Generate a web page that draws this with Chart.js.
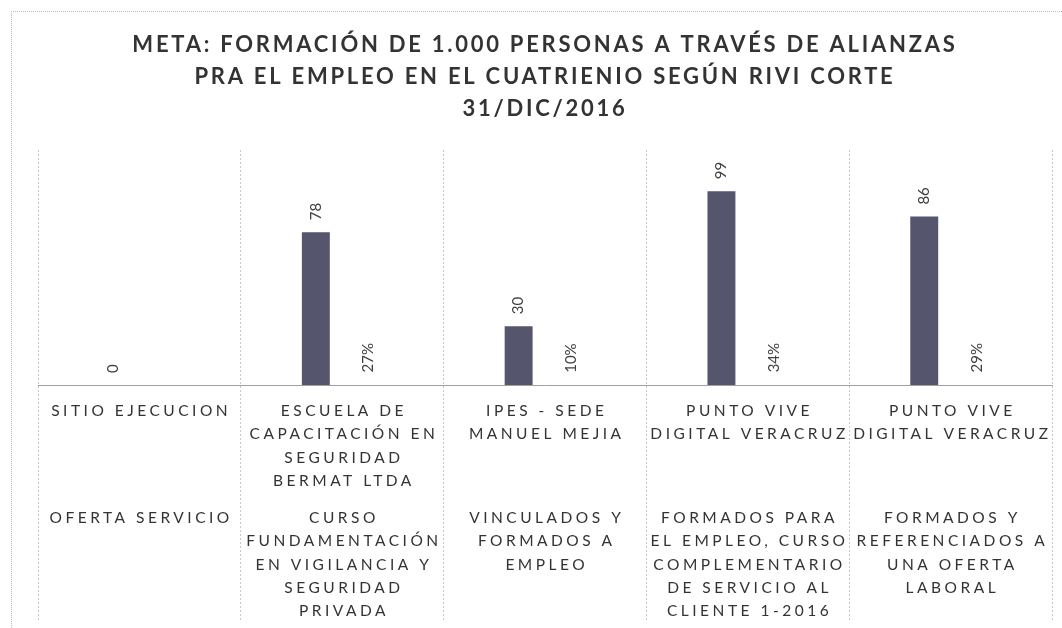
<!DOCTYPE html>
<html>
<head>
<meta charset="utf-8">
<script src="https://cdn.jsdelivr.net/npm/chart.js@4/dist/chart.umd.min.js"></script>
<style>
   html, body { margin:0; padding:0; background:#ffffff; }
   #caja { position:relative; width:1062px; height:628px; overflow:hidden; }
   #marco {
      position:absolute; left:11px; top:11px; width:1062px; height:628px;
      border-left:1px dotted #bdbdbd; border-top:1px dotted #bdbdbd;
   }
</style>
</head>
<body>
<div id="caja">
   <div id="marco"></div>
   <canvas id="grafico" width="1062" height="628"></canvas>
</div>
<script>

/* datos */
let titulo = [
   "META: FORMACIÓN DE 1.000 PERSONAS A TRAVÉS DE ALIANZAS",
   "PRA EL EMPLEO EN EL CUATRIENIO SEGÚN RIVI CORTE",
   "31/DIC/2016"
];

let sitioEjecucion = [
   ["SITIO EJECUCION"],
   ["ESCUELA DE","CAPACITACIÓN EN","SEGURIDAD","BERMAT LTDA"],
   ["IPES - SEDE","MANUEL MEJIA"],
   ["PUNTO VIVE","DIGITAL VERACRUZ"],
   ["PUNTO VIVE","DIGITAL VERACRUZ"]
];

let ofertaServicio = [
   ["OFERTA SERVICIO"],
   ["CURSO","FUNDAMENTACIÓN","EN VIGILANCIA Y","SEGURIDAD","PRIVADA"],
   ["VINCULADOS Y","FORMADOS A","EMPLEO"],
   ["FORMADOS PARA","EL EMPLEO, CURSO","COMPLEMENTARIO","DE SERVICIO AL","CLIENTE 1-2016"],
   ["FORMADOS Y","REFERENCIADOS A","UNA OFERTA","LABORAL"]
];

let personasFormadas = [0, 78, 30, 99, 86];

let porcentajeMeta = [null, 0.27, 0.10, 0.34, 0.29];

let fuente = "Lato, 'Open Sans', 'Liberation Sans', sans-serif";


/* etiquetas de valor y tabla de datos bajo el eje */
let etiquetasPlugin = {

   id:"etiquetas",

   beforeDraw:function(chart){

      /* espaciado del titulo */
      chart.ctx.letterSpacing = "2.75px";

   },

   afterDatasetsDraw:function(chart){

      let ctx = chart.ctx;

      ctx.save();

      ctx.letterSpacing = "0px";
      ctx.font = "15px " + fuente;
      ctx.fillStyle = "#404040";
      ctx.textAlign = "left";
      ctx.textBaseline = "middle";

      chart.data.datasets.forEach(function(ds, i){

         let meta = chart.getDatasetMeta(i);

         meta.data.forEach(function(bar, j){

            let v = ds.data[j];

            if(v === null || v === undefined) return;

            let texto =
               i === 0 ? String(v) : Math.round(v*100) + "%";

            ctx.save();
            ctx.translate(bar.x, bar.y - 12);
            ctx.rotate(-Math.PI/2);
            ctx.fillText(texto, 0, 0);
            ctx.restore();

         });

      });

      let xScale = chart.scales.x;

      ctx.letterSpacing = "3.5px";
      ctx.textAlign = "center";
      ctx.font = "15.5px " + fuente;
      ctx.fillStyle = "#333333";

      sitioEjecucion.forEach(function(lineas, j){

         let x = xScale.getPixelForValue(j) + 1.75;

         lineas.forEach(function(linea, k){

            ctx.fillText(linea, x, xScale.top + 26 + k*23.3);

         });

      });

      ofertaServicio.forEach(function(lineas, j){

         let x = xScale.getPixelForValue(j) + 1.75;

         lineas.forEach(function(linea, k){

            ctx.fillText(linea, x, xScale.top + 133 + k*23.3);

         });

      });

      ctx.restore();

   },

   afterDraw:function(chart){

      chart.ctx.letterSpacing = "0px";

   }

};


let ctx =
   document.getElementById("grafico").getContext("2d");

let grafico = new Chart(ctx, {

   type:"bar",

   data:{

      labels:sitioEjecucion,

      datasets:[
         {
            label:"Personas formadas",
            data:personasFormadas,
            backgroundColor:"#55556d",
            categoryPercentage:0.52,
            barPercentage:0.53
         },
         {
            /* barras del porcentaje: casi nulas, sin relleno visible */
            label:"% de la meta",
            data:porcentajeMeta,
            backgroundColor:"rgba(0,0,0,0)",
            categoryPercentage:0.52,
            barPercentage:0.53
         }
      ]

   },

   options:{

      responsive:false,
      animation:false,

      layout:{
         padding:{ top:12, left:38, right:10, bottom:8 }
      },

      plugins:{

         legend:{ display:false },
         tooltip:{ enabled:false },

         title:{
            display:true,
            text:titulo,
            color:"#333333",
            font:{ family:fuente, size:22, weight:"bold", lineHeight:32/22 },
            padding:{ top:17, bottom:25 }
         }

      },

      scales:{

         x:{
            offset:true,
            grid:{
               offset:true,
               color:"#c8c8c8",
               tickColor:"#c8c8c8",
               tickLength:235,
               tickBorderDash:[2,2]
            },
            border:{
               display:true,
               color:"#a0a0a0",
               dash:[2,2]
            },
            ticks:{ display:false }
         },

         y:{
            display:false,
            min:0,
            max:120
         }

      }

   },

   plugins:[etiquetasPlugin]

});

</script>
</body>
</html>
